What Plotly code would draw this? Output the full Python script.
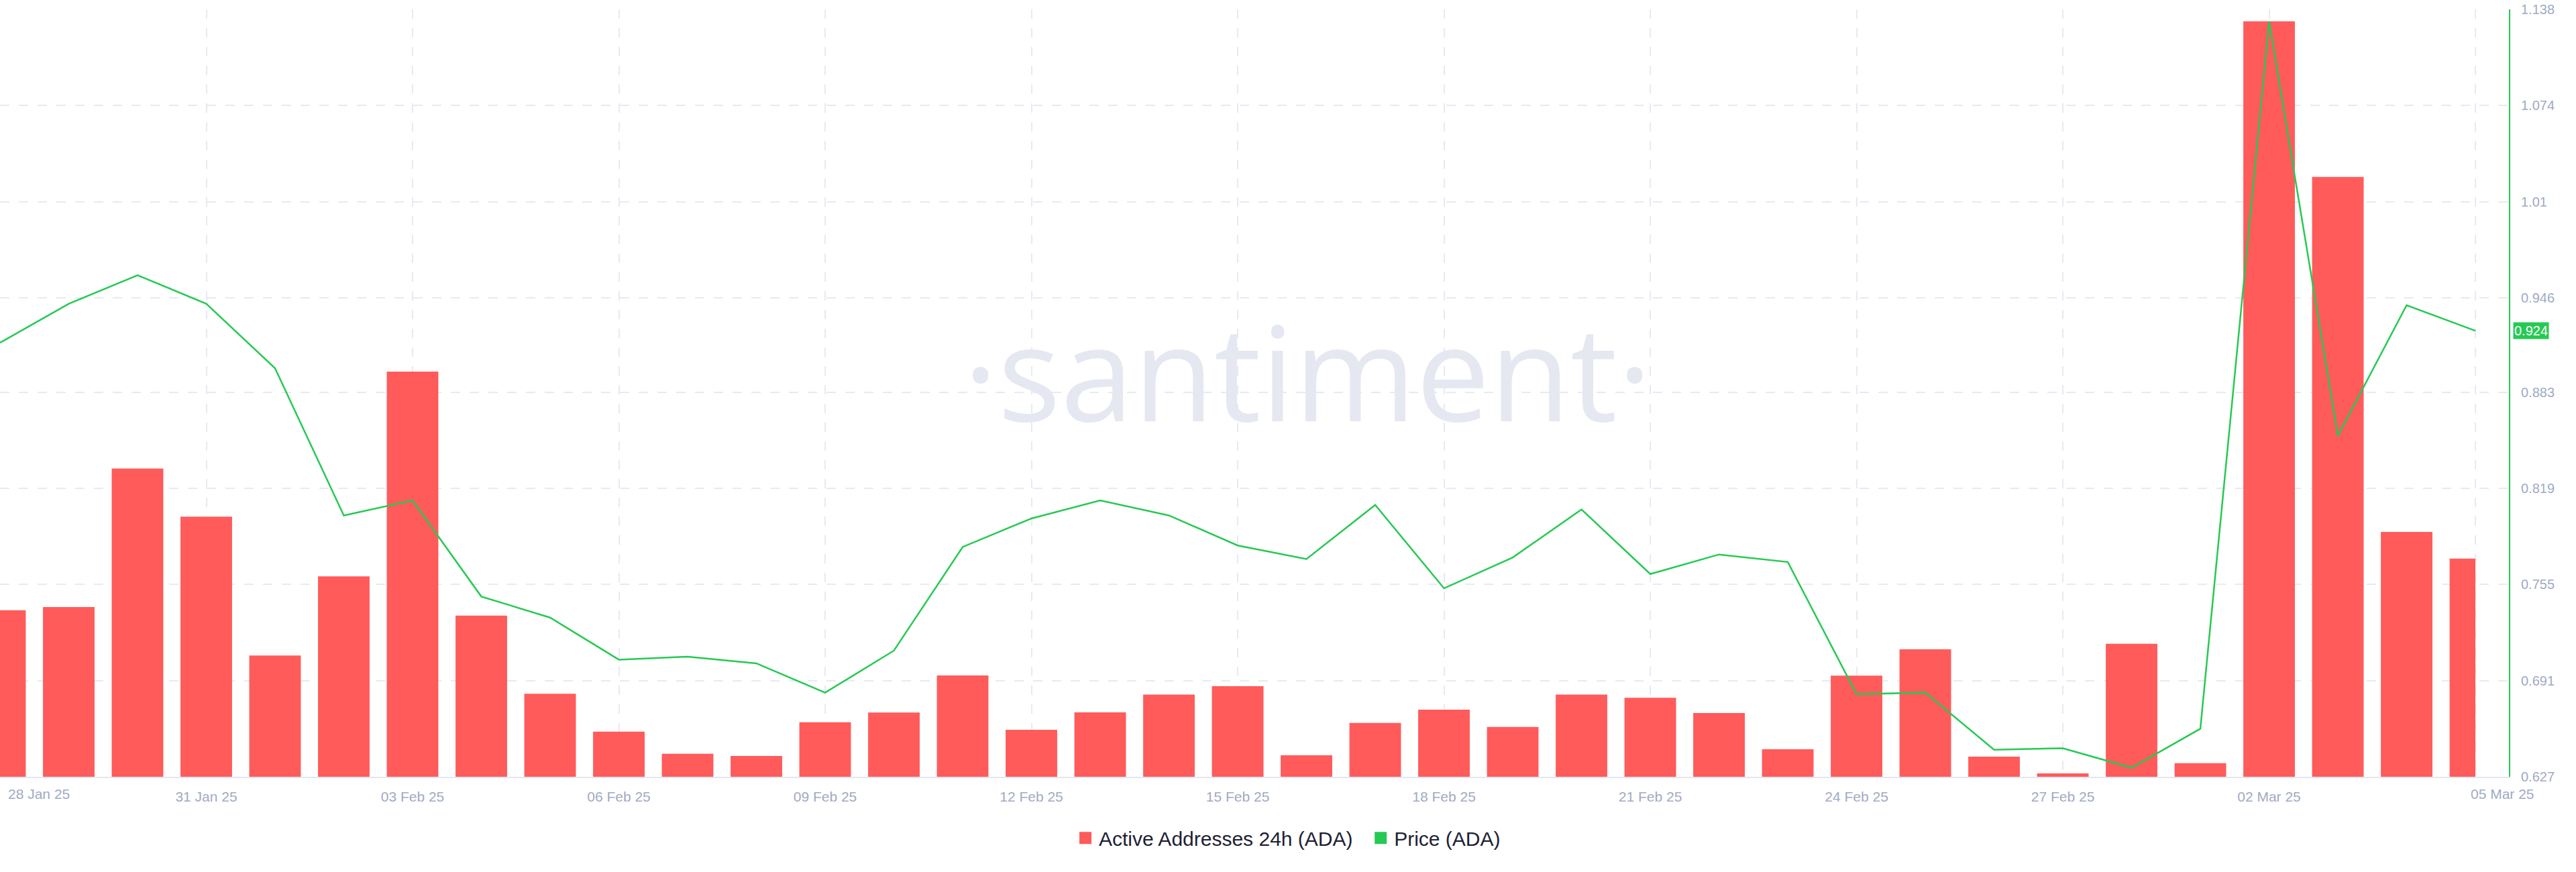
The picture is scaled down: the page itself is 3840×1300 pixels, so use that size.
import pandas as pd
import plotly.graph_objects as go

# ---------------- data ----------------
dates = pd.date_range("2025-01-28", "2025-03-05", freq="D")

active_addresses = [
    36370, 36600, 46890, 43320, 33010, 38880, 54100, 35970, 30160, 27350,
    25710, 25540, 28050, 28770, 31520, 27490, 28780, 30100, 30730, 25600,
    28000, 28980, 27700, 30100, 29870, 28730, 26040, 31510, 33470, 25490,
    24250, 33880, 25010, 80110, 68550, 42180, 40210,
]

price = [
    0.916, 0.942, 0.961, 0.942, 0.899, 0.801, 0.811, 0.747, 0.733, 0.705,
    0.707, 0.7025, 0.683, 0.711, 0.780, 0.799, 0.811, 0.801, 0.781, 0.772,
    0.808, 0.7525, 0.773, 0.805, 0.762, 0.775, 0.770, 0.682, 0.683, 0.645,
    0.646, 0.633, 0.659, 1.130, 0.854, 0.941, 0.924,
]

price_ticks = [0.627, 0.691, 0.755, 0.819, 0.883, 0.946, 1.01, 1.074, 1.138]
price_ticktext = ["0.627", "0.691", "0.755", "0.819", "0.883", "0.946", "1.01", "1.074", "1.138"]
last_price_label = "0.924"

series_names = ["Active Addresses 24h (ADA)", "Price (ADA)"]

# ---------------- style ----------------
RED = "#ff5b5b"
GREEN = "#26c953"
TICK = "#9faac4"
GRID = "#e7eaf3"
LEGEND_TXT = "#1d2133"
WATERMARK = "#e5e8f1"
FONT = "Liberation Sans, Arial, sans-serif"

DAY_MS = 86400000
n = len(dates)
bar_width = [0.75 * DAY_MS] * n
bar_width[-1] = 0.375 * DAY_MS          # last bar is clipped at the data end
bar_offset = [-0.375 * DAY_MS] * n

tick_dates = list(dates[::3])
tick_text = [d.strftime("%d %b %y") for d in tick_dates]
first_label, last_label = tick_text[0], tick_text[-1]
tick_text[0] = ""
tick_text[-1] = ""

x_end = dates[-1] + pd.Timedelta(hours=11.7)

fig = go.Figure()

fig.add_trace(go.Bar(
    x=dates, y=active_addresses, yaxis="y",
    marker=dict(color=RED, line=dict(width=0)),
    width=bar_width, offset=bar_offset,
    name=series_names[0], showlegend=False,
))

fig.add_trace(go.Scatter(
    x=dates, y=price, yaxis="y2", mode="lines",
    line=dict(color=GREEN, width=2.5),
    name=series_names[1], showlegend=False,
))

# legend entries (square swatches)
for nm, col in zip(series_names, [RED, GREEN]):
    label = nm + ("\u00a0\u00a0" if col == RED else "")
    fig.add_trace(go.Scatter(
        x=[None], y=[None], yaxis="y2", mode="markers",
        marker=dict(symbol="square", size=16, color=col, line=dict(width=2, color=col)),
        name=label, showlegend=True,
    ))

fig.update_layout(
    width=3840, height=1300,
    margin=dict(l=0, r=100, t=14, b=142),
    paper_bgcolor="white", plot_bgcolor="white",
    font=dict(family=FONT, color=TICK, size=20),
    bargap=0.25,
    xaxis=dict(
        type="date",
        range=[dates[0], x_end],
        tickvals=tick_dates, ticktext=tick_text,
        showgrid=True, gridcolor=GRID, griddash="14px,14px", gridwidth=2,
        showline=True, linecolor="#e3e6f0", linewidth=2,
        zeroline=False, ticks="", ticklabelstandoff=10,
        tickfont=dict(size=21, color=TICK, family=FONT),
    ),
    yaxis=dict(
        range=[24000, 81000], visible=False, showgrid=False, zeroline=False,
    ),
    yaxis2=dict(
        overlaying="y", side="right",
        range=[price_ticks[0], price_ticks[-1]],
        tickvals=price_ticks, ticktext=price_ticktext,
        showgrid=True, gridcolor=GRID, griddash="14px,14px", gridwidth=2,
        showline=True, linecolor=GREEN, linewidth=2,
        zeroline=False, ticks="", ticklabelstandoff=12,
        tickfont=dict(size=20, color=TICK, family=FONT),
    ),
    legend=dict(
        orientation="h", xref="container", yref="container",
        x=0.5, xanchor="center", y=0.039, yanchor="middle",
        font=dict(size=30, color=LEGEND_TXT, family=FONT),
        itemsizing="trace", bgcolor="rgba(0,0,0,0)",
    ),
    showlegend=True,
)

annotations = [
    dict(text="\u00b7santiment\u00b7", xref="paper", yref="paper", x=0.521, y=0.530,
         xanchor="center", yanchor="middle", showarrow=False,
         font=dict(size=196, color=WATERMARK, family="Open Sans", weight=400)),
    dict(text=last_price_label, xref="paper", yref="y2", x=1, y=price[-1],
         xanchor="left", yanchor="middle", xshift=6, showarrow=False,
         bgcolor=GREEN, borderpad=1,
         font=dict(size=20, color="white", family=FONT)),
    dict(text=first_label, xref="x", yref="paper", x=dates[0], y=0,
         xanchor="left", yanchor="top", xshift=10, yshift=-12, showarrow=False,
         font=dict(size=21, color=TICK, family=FONT)),
    dict(text=last_label, xref="x", yref="paper", x=dates[-1], y=0,
         xanchor="center", yanchor="top", xshift=40, yshift=-12, showarrow=False,
         font=dict(size=21, color=TICK, family=FONT)),
]
fig.update_layout(annotations=annotations)

fig.write_html(
    "out.html",
    config={"displayModeBar": False},
    post_script="document.body.style.margin='0px';",
)
